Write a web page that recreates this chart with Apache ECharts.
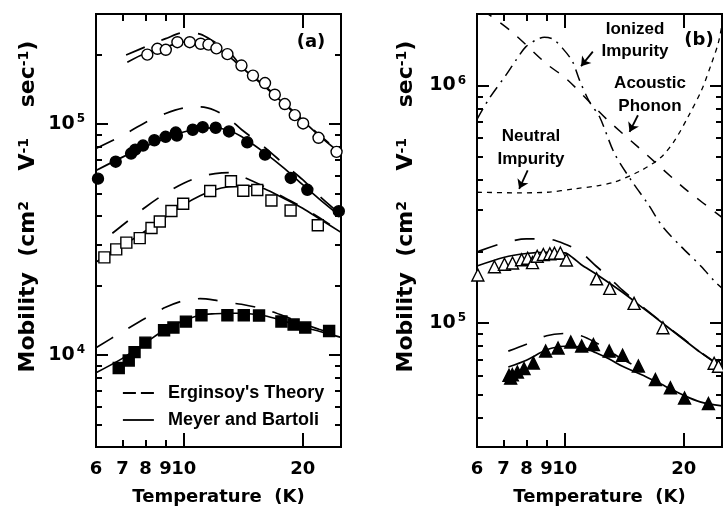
<!DOCTYPE html>
<html>
<head>
<meta charset="utf-8">
<script src="https://cdn.jsdelivr.net/npm/echarts@6/dist/echarts.min.js"></script>
<style>
  html, body { margin: 0; padding: 0; background: #fff; }
  #chart { width: 723px; height: 506px; }
</style>
</head>
<body>
<div id="chart"></div>
<script>
// ---------- data, panel (a) ----------
const tempTickLabels = [6, 7, 8, 9, 10, 20];
const tempTicksMajor = [10, 20];
const tempTicksMinor = [7, 8, 9];

const muTicksMajorA = [1e4, 1e5];
const muTicksMinorA = [5e3, 6e3, 7e3, 8e3, 9e3, 2e4, 3e4, 4e4, 5e4, 6e4, 7e4, 8e4, 9e4, 2e5];
const muTicksMajorB = [1e5, 1e6];
const muTicksMinorB = [4e4, 5e4, 6e4, 7e4, 8e4, 9e4, 2e5, 3e5, 4e5, 5e5, 6e5, 7e5, 8e5, 9e5];

const tempOpenCircle = [8.09, 8.58, 9.01, 9.64, 10.36, 11.04, 11.55, 12.10, 12.90, 14.0, 14.97, 16.06, 17.0, 18.02, 19.1, 20.05, 21.93, 24.36];
const muOpenCircle = [2.0e5, 2.12e5, 2.10e5, 2.265e5, 2.265e5, 2.23e5, 2.21e5, 2.13e5, 2.01e5, 1.795e5, 1.623e5, 1.507e5, 1.342e5, 1.222e5, 1.094e5, 1.007e5, 8.73e4, 7.59e4];

const tempFilledCircle = [6.07, 6.73, 7.36, 7.54, 7.89, 8.43, 9.0, 9.55, 9.61, 10.54, 11.17, 12.05, 13.02, 14.48, 16.06, 18.66, 20.55, 24.68];
const muFilledCircle = [5.81e4, 6.88e4, 7.46e4, 7.76e4, 8.08e4, 8.52e4, 8.82e4, 9.2e4, 8.93e4, 9.46e4, 9.7e4, 9.65e4, 9.3e4, 8.35e4, 7.38e4, 5.85e4, 5.2e4, 4.2e4];

const tempOpenSquare = [6.30, 6.75, 7.16, 7.74, 8.29, 8.70, 9.31, 9.97, 11.67, 13.17, 14.15, 15.35, 16.67, 18.64, 21.84];
const muOpenSquare = [2.65e4, 2.87e4, 3.07e4, 3.21e4, 3.55e4, 3.79e4, 4.21e4, 4.52e4, 5.14e4, 5.66e4, 5.15e4, 5.19e4, 4.67e4, 4.23e4, 3.65e4];

const tempFilledSquare = [6.85, 7.26, 7.51, 8.0, 8.92, 9.42, 10.13, 11.09, 12.9, 14.19, 15.51, 17.67, 18.97, 20.3, 23.33];
const muFilledSquare = [8.8e3, 9.48e3, 1.03e4, 1.132e4, 1.281e4, 1.316e4, 1.397e4, 1.488e4, 1.488e4, 1.488e4, 1.484e4, 1.398e4, 1.356e4, 1.316e4, 1.272e4];

// theory curves, panel (a)
const tempFitOC = [7.2, 8, 9, 10, 11, 12, 13, 14, 16, 18, 20, 22, 25];
const muMeyerOC = [1.855e5, 2.03e5, 2.156e5, 2.265e5, 2.255e5, 2.156e5, 1.97e5, 1.764e5, 1.458e5, 1.218e5, 1.038e5, 8.93e4, 7.46e4];
const tempErgOC = [7.15, 8.2, 9, 10, 11, 12, 13, 14, 16, 18, 20, 22, 25];
const muErgOC = [1.995e5, 2.2e5, 2.347e5, 2.49e5, 2.455e5, 2.265e5, 2.07e5, 1.78e5, 1.47e5, 1.23e5, 1.048e5, 9.0e4, 7.5e4];

const tempFitFC = [6, 7, 8, 9, 10, 11, 12, 13, 14, 16, 18, 20, 22, 25];
const muMeyerFC = [6.3e4, 7.2e4, 8.0e4, 8.67e4, 9.25e4, 9.58e4, 9.63e4, 9.39e4, 8.84e4, 7.53e4, 6.42e4, 5.47e4, 4.75e4, 3.97e4];
const muErgFC = [7.85e4, 8.93e4, 1.017e5, 1.113e5, 1.176e5, 1.188e5, 1.147e5, 1.059e5, 9.48e4, 7.96e4, 6.68e4, 5.75e4, 4.9e4, 4.05e4];

const tempFitOS = [6, 7, 8, 9, 10, 11, 12, 13, 14, 15, 16, 18, 20, 22, 25];
const muMeyerOS = [2.53e4, 2.97e4, 3.45e4, 3.97e4, 4.48e4, 4.9e4, 5.2e4, 5.36e4, 5.41e4, 5.39e4, 5.25e4, 4.75e4, 4.32e4, 3.9e4, 3.4e4];
const tempErgOS = [6.6, 7, 8, 9, 10, 11, 12, 13, 14, 16, 18, 20, 22, 25];
const muErgOS = [3.37e4, 3.65e4, 4.37e4, 5.02e4, 5.55e4, 5.92e4, 6.11e4, 6.17e4, 5.95e4, 5.36e4, 4.8e4, 4.36e4, 3.94e4, 3.43e4];

const tempFitFS = [6, 7, 8, 9, 10, 11, 12, 13, 14, 16, 18, 20, 22, 25];
const muMeyerFS = [8.39e3, 9.68e3, 1.13e4, 1.294e4, 1.408e4, 1.488e4, 1.51e4, 1.518e4, 1.518e4, 1.48e4, 1.401e4, 1.327e4, 1.268e4, 1.194e4];
const muErgFS = [1.077e4, 1.262e4, 1.444e4, 1.611e4, 1.72e4, 1.755e4, 1.729e4, 1.686e4, 1.66e4, 1.58e4, 1.473e4, 1.367e4, 1.294e4, 1.206e4];

// ---------- data, panel (b) ----------
const tempOpenTri = [6.03, 6.64, 7.04, 7.38, 7.78, 8.06, 8.29, 8.52, 8.83, 9.17, 9.42, 9.75, 10.1, 12.04, 13.0, 14.98, 17.72, 23.88, 24.5];
const muOpenTri = [1.59e5, 1.724e5, 1.765e5, 1.787e5, 1.845e5, 1.871e5, 1.793e5, 1.908e5, 1.94e5, 1.955e5, 1.965e5, 1.97e5, 1.84e5, 1.533e5, 1.397e5, 1.208e5, 9.54e4, 6.76e4, 6.57e4];

const tempFilledTri = [7.23, 7.3, 7.37, 7.59, 7.89, 8.33, 8.95, 9.62, 10.36, 11.04, 11.82, 12.96, 14.01, 15.36, 16.96, 18.51, 20.1, 23.1];
const muFilledTri = [6.01e4, 5.85e4, 6.05e4, 6.21e4, 6.42e4, 6.78e4, 7.61e4, 7.84e4, 8.31e4, 7.99e4, 8.1e4, 7.6e4, 7.3e4, 6.58e4, 5.77e4, 5.33e4, 4.82e4, 4.57e4];

const tempFitOT = [6, 7, 8, 9, 10, 10.5, 11, 12, 14, 16, 18, 20, 22, 25];
const muMeyerOT = [1.736e5, 1.886e5, 1.96e5, 1.98e5, 1.97e5, 1.876e5, 1.761e5, 1.606e5, 1.345e5, 1.134e5, 9.75e4, 8.51e4, 7.53e4, 6.5e4];
const tempErgOT = [6.05, 7, 8, 9, 10, 11, 12, 13, 14, 16, 18, 20, 22, 25];
const muErgOT = [2.0e5, 2.17e5, 2.257e5, 2.257e5, 2.15e5, 1.98e5, 1.736e5, 1.544e5, 1.374e5, 1.143e5, 9.78e4, 8.55e4, 7.55e4, 6.52e4];

const tempFitFT = [7.2, 8, 9, 10, 11, 12, 13, 14, 16, 18, 20, 22, 25];
const muMeyerFT = [6.52e4, 6.96e4, 7.7e4, 7.97e4, 7.93e4, 7.48e4, 7.02e4, 6.56e4, 5.95e4, 5.4e4, 4.95e4, 4.65e4, 4.47e4];
const tempErgFT = [7.2, 8, 9, 10, 11, 12, 13, 14, 15.5];
const muErgFT = [7.6e4, 8.13e4, 8.83e4, 9.02e4, 8.83e4, 8.25e4, 7.6e4, 7.02e4, 6.44e4];

// scattering mechanisms, panel (b)
const tempNeutral = [6, 7.59, 9.04, 10.58, 12.1, 13.37, 15.63, 17.56, 18.98, 20.52, 22.19, 23.52, 24.45, 25];
const muNeutral = [3.55e5, 3.53e5, 3.55e5, 3.67e5, 3.78e5, 3.92e5, 4.39e5, 5.0e5, 5.87e5, 7.38e5, 9.55e5, 1.238e6, 1.504e6, 1.8e6];
const tempAcoustic = [6.2, 7.37, 8.97, 10.08, 11.44, 12.86, 15.32, 18.98, 20.52, 25];
const muAcoustic = [2.08e6, 1.675e6, 1.238e6, 1.07e6, 8.67e5, 7.13e5, 5.51e5, 4.0e5, 3.58e5, 2.78e5];
const tempIonized = [6.0, 6.44, 7.1, 7.53, 7.98, 8.52, 8.88, 9.36, 9.88, 10.46, 10.9, 11.55, 12.25, 13.37, 14.74, 16.24, 17.73, 19.74, 22.19, 23.99, 25];
const muIonized = [7.2e5, 8.81e5, 1.105e6, 1.279e6, 1.457e6, 1.564e6, 1.596e6, 1.564e6, 1.433e6, 1.263e6, 1.053e6, 8.53e5, 7.38e5, 5.16e5, 3.98e5, 3.17e5, 2.53e5, 2.09e5, 1.724e5, 1.49e5, 1.4e5];

// ---------- helpers ----------
const BOLD = 'bold';
const AXIS_FONT = 'DejaVu Sans';
const NOTE_FONT = 'Liberation Sans';
const ERG_DASH = [20, 18];

function pts(xs, ys) {
  return xs.map((x, i) => [x, ys[i]]);
}

function supLabel(v) {
  return '{b|10}{s|' + Math.round(Math.log10(v)) + '}';
}

const supRich = {
  b: { fontFamily: AXIS_FONT, fontWeight: BOLD, fontSize: 19, lineHeight: 22, color: '#000' },
  s: { fontFamily: AXIS_FONT, fontWeight: BOLD, fontSize: 12, lineHeight: 12, verticalAlign: 'top', padding: [0, 0, 0, 2], color: '#000' }
};

const titleRich = {
  t: { fontFamily: AXIS_FONT, fontWeight: BOLD, fontSize: 22, color: '#000' },
  s: { fontFamily: AXIS_FONT, fontWeight: BOLD, fontSize: 14, verticalAlign: 'top', color: '#000' }
};

let xAxes = [];
let yAxes = [];

function tempAxis(grid, position, ticks, len, withLabels) {
  let ax = {
    type: 'log', logBase: 10, min: 6, max: 25, gridIndex: grid, position: position,
    axisLine: { show: false },
    splitLine: { show: false },
    axisTick: { show: true, inside: true, length: len, customValues: ticks, lineStyle: { color: '#000', width: 2 } },
    axisLabel: { show: false }
  };
  if (withLabels) {
    ax.axisLabel = {
      show: true, customValues: tempTickLabels, margin: 13,
      formatter: v => String(Math.round(v)),
      fontFamily: AXIS_FONT, fontWeight: BOLD, fontSize: 18, color: '#000'
    };
    ax.name = 'Temperature  (K)';
    ax.nameLocation = 'middle';
    ax.nameGap = 41;
    ax.nameTextStyle = { fontFamily: AXIS_FONT, fontWeight: BOLD, fontSize: 18, color: '#000' };
  }
  xAxes.push(ax);
  return xAxes.length - 1;
}

function muAxis(grid, position, min, max, ticks, len, labelTicks, nameGap) {
  let ax = {
    type: 'log', logBase: 10, min: min, max: max, gridIndex: grid, position: position,
    axisLine: { show: false },
    splitLine: { show: false },
    axisTick: { show: true, inside: true, length: len, customValues: ticks, lineStyle: { color: '#000', width: 2 } },
    axisLabel: { show: false }
  };
  if (labelTicks) {
    ax.axisLabel = { show: true, customValues: labelTicks, margin: 11, formatter: supLabel, rich: supRich };
    ax.name = '{t|Mobility  (cm}{s|2}{t|    V}{s|-1}{t|    sec}{s|-1}{t|)}';
    ax.nameLocation = 'middle';
    ax.nameRotate = 90;
    ax.nameGap = nameGap;
    ax.nameTextStyle = { rich: titleRich, padding: [0, 0, 0, 48] };
  }
  yAxes.push(ax);
  return yAxes.length - 1;
}

// panel (a) axes
const xa = tempAxis(0, 'bottom', tempTicksMajor, 14, true);
tempAxis(0, 'bottom', tempTicksMinor, 7, false);
tempAxis(0, 'top', tempTicksMajor, 14, false);
tempAxis(0, 'top', tempTicksMinor, 7, false);
const ya = muAxis(0, 'left', 4000, 3e5, muTicksMajorA, 12, muTicksMajorA, 57);
muAxis(0, 'left', 4000, 3e5, muTicksMinorA, 6, null);
muAxis(0, 'right', 4000, 3e5, muTicksMajorA, 12, null);
muAxis(0, 'right', 4000, 3e5, muTicksMinorA, 6, null);

// panel (b) axes
const xb = tempAxis(1, 'bottom', tempTicksMajor, 14, true);
tempAxis(1, 'bottom', tempTicksMinor, 7, false);
tempAxis(1, 'top', tempTicksMajor, 14, false);
tempAxis(1, 'top', tempTicksMinor, 7, false);
const yb = muAxis(1, 'left', 3e4, 2e6, muTicksMajorB, 12, muTicksMajorB, 60);
muAxis(1, 'left', 3e4, 2e6, muTicksMinorB, 6, null);
muAxis(1, 'right', 3e4, 2e6, muTicksMajorB, 12, null);
muAxis(1, 'right', 3e4, 2e6, muTicksMinorB, 6, null);

function markers(xi, yi, data, symbol, size, filled) {
  return {
    type: 'scatter', xAxisIndex: xi, yAxisIndex: yi, data: data,
    symbol: symbol, symbolSize: size, z: 5, silent: true,
    itemStyle: { color: filled ? '#000' : '#fff', borderColor: '#000', borderWidth: 1.4, opacity: 1 }
  };
}

function curve(xi, yi, name, data, type, width) {
  return {
    type: 'line', name: name, xAxisIndex: xi, yAxisIndex: yi, data: data,
    symbol: 'none', smooth: 0.3, silent: true, z: 3,
    itemStyle: { color: '#000' },
    lineStyle: { color: '#000', width: width || 1.7, type: type }
  };
}

const ERG = "Erginsoy's Theory";
const MB = 'Meyer and Bartoli';

// arrows for the annotation texts in panel (b), in data coordinates [tail, head]
const arrowsB = [
  [[11.78, 1.388e6], [11.0, 1.206e6]],
  [[15.32, 7.49e5], [14.59, 6.37e5]],
  [[8.06, 4.39e5], [7.67, 3.67e5]]
];

let acoustic = curve(xb, yb, 'Acoustic Phonon', pts(tempAcoustic, muAcoustic), [11, 11], 1.5);
acoustic.markLine = {
  silent: true, animation: false, symbolSize: 9,
  label: { show: false },
  lineStyle: { color: '#000', width: 1.8, type: 'solid' },
  data: arrowsB.map(a => [{ coord: a[0], symbol: 'none' }, { coord: a[1], symbol: 'arrow' }])
};

const series = [
  // panel (a)
  curve(xa, ya, ERG, pts(tempErgOC, muErgOC), ERG_DASH),
  curve(xa, ya, MB, pts(tempFitOC, muMeyerOC), 'solid'),
  curve(xa, ya, ERG, pts(tempFitFC, muErgFC), ERG_DASH),
  curve(xa, ya, MB, pts(tempFitFC, muMeyerFC), 'solid'),
  curve(xa, ya, ERG, pts(tempErgOS, muErgOS), ERG_DASH),
  curve(xa, ya, MB, pts(tempFitOS, muMeyerOS), 'solid'),
  curve(xa, ya, ERG, pts(tempFitFS, muErgFS), ERG_DASH),
  curve(xa, ya, MB, pts(tempFitFS, muMeyerFS), 'solid'),
  markers(xa, ya, pts(tempOpenCircle, muOpenCircle), 'circle', 11, false),
  markers(xa, ya, pts(tempFilledCircle, muFilledCircle), 'circle', 11, true),
  markers(xa, ya, pts(tempOpenSquare, muOpenSquare), 'rect', 11, false),
  markers(xa, ya, pts(tempFilledSquare, muFilledSquare), 'rect', 11, true),
  // panel (b)
  curve(xb, yb, 'Neutral Impurity', pts(tempNeutral, muNeutral), [5, 5], 1.3),
  acoustic,
  curve(xb, yb, 'Ionized Impurity', pts(tempIonized, muIonized), [12, 6, 2, 6], 1.5),
  curve(xb, yb, ERG, pts(tempErgOT, muErgOT), ERG_DASH),
  curve(xb, yb, MB, pts(tempFitOT, muMeyerOT), 'solid'),
  curve(xb, yb, ERG, pts(tempErgFT, muErgFT), ERG_DASH),
  curve(xb, yb, MB, pts(tempFitFT, muMeyerFT), 'solid'),
  markers(xb, yb, pts(tempOpenTri, muOpenTri), 'triangle', 12, false),
  markers(xb, yb, pts(tempFilledTri, muFilledTri), 'triangle', 12, true)
];

function note(text, x, y, font, size, lh) {
  return {
    type: 'text', x: x, y: y, silent: true, z: 10,
    style: {
      text: text, fill: '#000', align: 'center', verticalAlign: 'middle',
      font: 'bold ' + size + 'px "' + font + '"', lineHeight: lh
    }
  };
}

let myChart = echarts.init(document.getElementById('chart'), null, { renderer: 'canvas' });

const hiddenSymbol = { color: 'rgba(0,0,0,0)', borderColor: 'rgba(0,0,0,0)', borderWidth: 0, opacity: 0 };

let option = {
  animation: false,
  backgroundColor: '#fff',
  grid: [
    { left: 96, top: 14, width: 245, height: 433, show: true, borderColor: '#000', borderWidth: 2, outerBoundsMode: 'none' },
    { left: 477, top: 14, width: 245, height: 433, show: true, borderColor: '#000', borderWidth: 2, outerBoundsMode: 'none' }
  ],
  xAxis: xAxes,
  yAxis: yAxes,
  legend: {
    orient: 'vertical', left: 122, top: 384, padding: 0,
    itemWidth: 31, itemHeight: 14, itemGap: 9, selectedMode: false,
    data: [
      { name: ERG, itemStyle: hiddenSymbol, lineStyle: { color: '#000', width: 1.8, type: [13, 5] } },
      { name: MB, itemStyle: hiddenSymbol, lineStyle: { color: '#000', width: 1.8, type: 'solid' } }
    ],
    textStyle: { fontFamily: NOTE_FONT, fontWeight: BOLD, fontSize: 18, color: '#000', padding: [0, 0, 0, 9] }
  },
  graphic: [
    note('(a)', 311, 42, AXIS_FONT, 18, 20),
    note('(b)', 699, 40, AXIS_FONT, 18, 20),
    note('Ionized\nImpurity', 635, 40, NOTE_FONT, 17, 22),
    note('Acoustic\nPhonon', 650, 95, NOTE_FONT, 17, 23),
    note('Neutral\nImpurity', 531, 148, NOTE_FONT, 17, 23)
  ],
  series: series
};

myChart.setOption(option);
window.addEventListener('resize', function () {
  myChart.resize();
});
</script>
</body>
</html>
